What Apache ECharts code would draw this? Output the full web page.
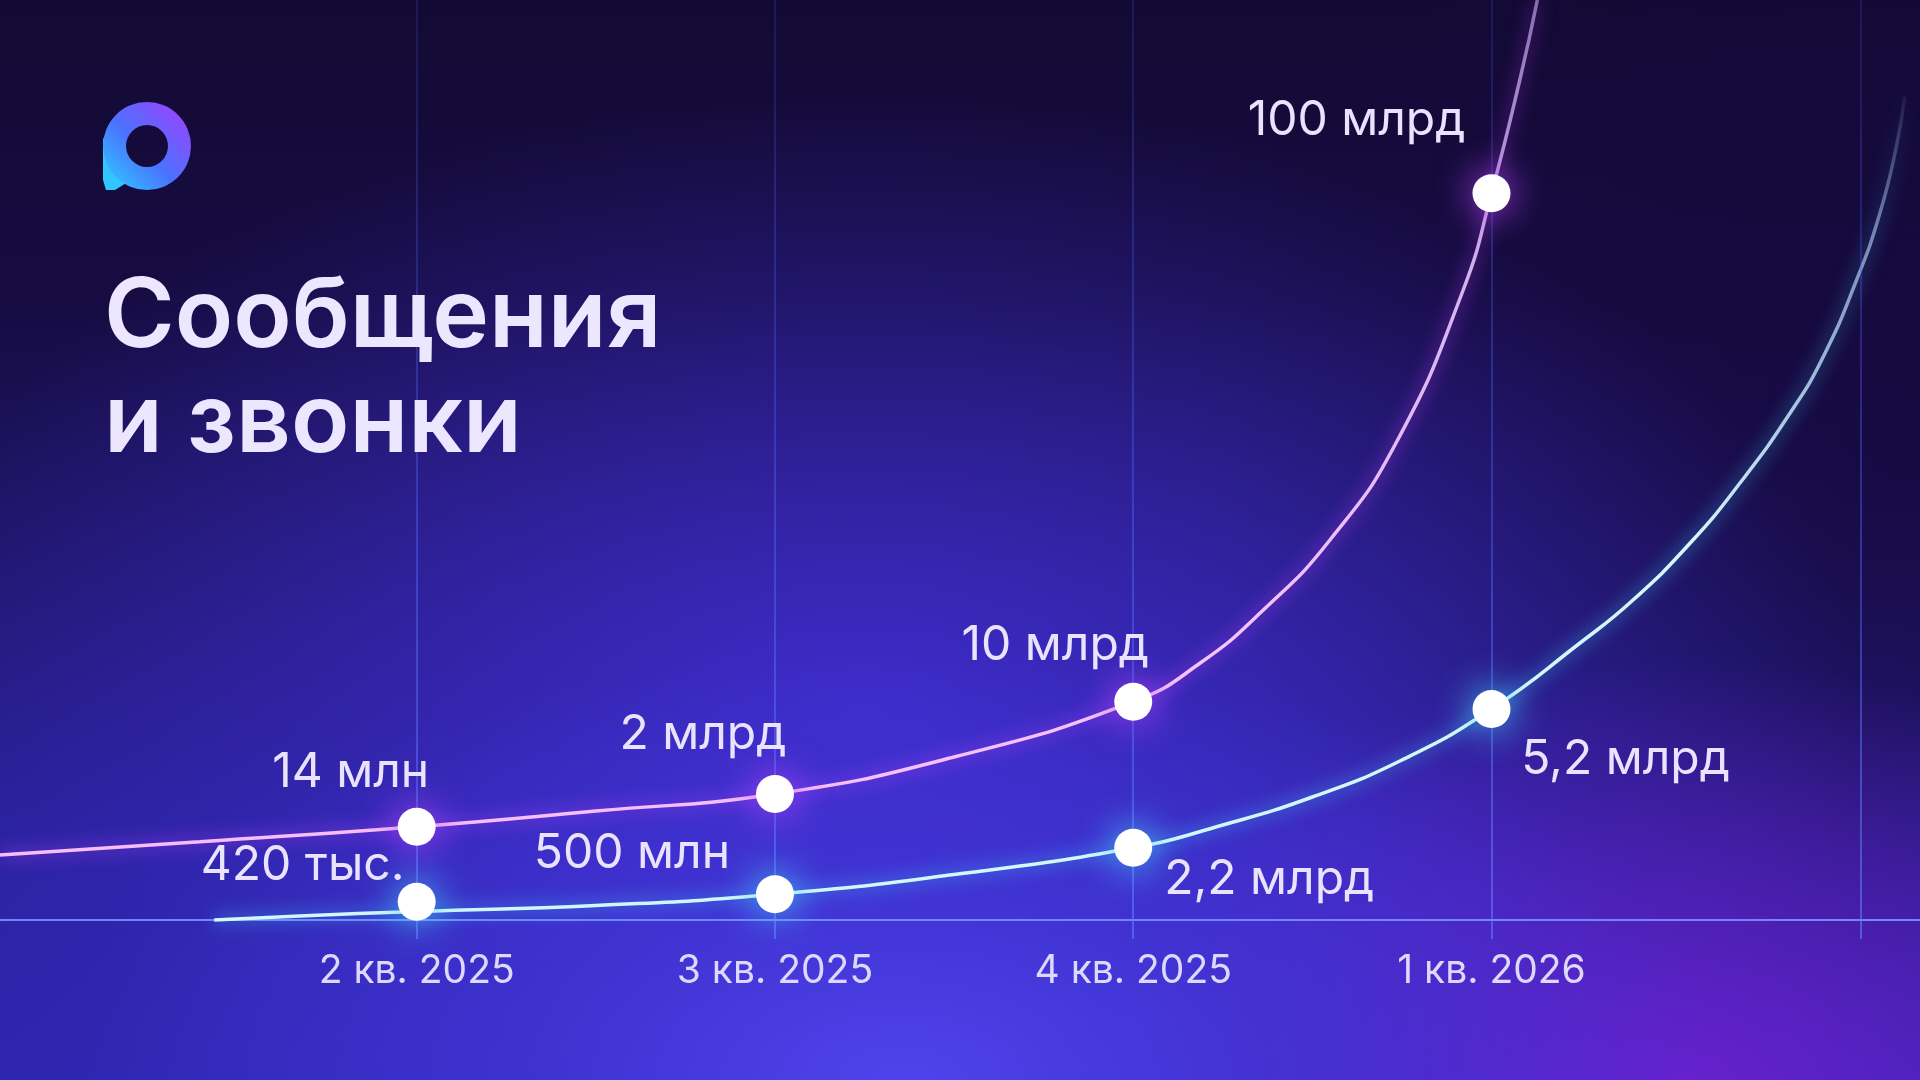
<!DOCTYPE html>
<html>
<head>
<meta charset="utf-8">
<script src="https://cdn.jsdelivr.net/npm/echarts/dist/echarts.min.js"></script>
<style>
  html, body { margin: 0; padding: 0; background: #120a33; }
  #chart {
    width: 1920px; height: 1080px;
    background:
      radial-gradient(ellipse 820px 430px at 47% 100%, rgba(80,68,238,0.95) 0%, rgba(70,58,225,0.55) 45%, rgba(60,45,210,0) 100%),
      radial-gradient(ellipse 620px 420px at 88% 100%, rgba(112,32,210,0.85) 0%, rgba(100,30,200,0) 100%),
      radial-gradient(ellipse 1000px 620px at 45% 66%, rgba(68,48,220,0.8) 0%, rgba(62,46,205,0) 100%),
      radial-gradient(ellipse 700px 700px at 100% 40%, rgba(22,8,60,0.8) 0%, rgba(22,8,60,0) 100%),
      linear-gradient(180deg, #130a34 0%, #160c42 28%, #201770 55%, #2a22a0 80%, #2e26b0 100%);
  }
</style>
</head>
<body>
<div id="chart"></div>
<script>
// ---- Data ----
const quarters = ['2 кв. 2025', '3 кв. 2025', '4 кв. 2025', '1 кв. 2026'];
const messageLabels = ['14 млн', '2 млрд', '10 млрд', '100 млрд'];
const callLabels = ['420 тыс.', '500 млн', '2,2 млрд', '5,2 млрд'];
// stylised vertical level of each point (0 = baseline, 92 = top edge)
const messageLevels = [9.33, 12.6, 21.83, 72.67];
const callLevels = [1.83, 2.57, 7.23, 21.1];
// traced curve paths [quarter position, level]
const messageCurve = [[-1.163, 6.5], [-0.605, 7.83], [0, 9.33], [0.5, 10.9], [1, 12.6], [1.5, 16.3], [2, 21.83], [2.186, 25.67], [2.363, 31.0], [2.549, 38.0], [2.735, 47.8], [2.921, 63.0], [3, 72.67], [3.079, 84], [3.128, 92]];
const callCurve = [[-0.565, 0], [-0.326, 0.4], [0, 0.85], [0.5, 1.45], [1, 2.57], [1.5, 4.55], [2, 7.23], [2.25, 9.5], [2.5, 12.3], [2.75, 16.0], [3, 21.1], [3.247, 27.7], [3.395, 32], [3.554, 37.67], [3.693, 43.67], [3.833, 50.67], [3.926, 56.33], [4.019, 64], [4.084, 70.67], [4.13, 77.33], [4.153, 82.33]];
const gridPositions = [0, 1, 2, 3, 4.03];

// ---- Layout / style (not data) ----
const messageLabelOffsets = [[-66, -54], [-72, -59], [-78, -56], [-135, -73]];
const callLabelOffsets = [[-114, -36], [-143, -41], [136, 32], [134, 51]];
const FONT = 'Inter, "Noto Sans", sans-serif';

const chart = echarts.init(document.getElementById('chart'), null, { renderer: 'canvas' });

const purpleLine = {
  type: 'linear', x: 0, y: 0, x2: 0, y2: 1080, global: true,
  colorStops: [
    { offset: 0, color: 'rgba(205,175,255,0.6)' },
    { offset: 0.25, color: 'rgba(230,195,255,0.9)' },
    { offset: 0.6, color: '#f6c4ff' },
    { offset: 1, color: '#f8b4ff' }
  ]
};
const cyanLine = {
  type: 'linear', x: 0, y: 0, x2: 0, y2: 1080, global: true,
  colorStops: [
    { offset: 0.07, color: 'rgba(170,190,255,0)' },
    { offset: 0.22, color: 'rgba(185,210,255,0.6)' },
    { offset: 0.5, color: 'rgba(215,246,255,1)' },
    { offset: 1, color: '#cef7ff' }
  ]
};
const gridColor = {
  type: 'linear', x: 0, y: 0, x2: 0, y2: 939, global: true,
  colorStops: [
    { offset: 0, color: 'rgba(70,90,230,0.25)' },
    { offset: 0.5, color: 'rgba(80,105,250,0.5)' },
    { offset: 1, color: 'rgba(100,130,255,0.75)' }
  ]
};

const option = {
  backgroundColor: 'transparent',
  animation: false,
  grid: { left: 0, right: 0, top: 0, bottom: 141, containLabel: false },
  xAxis: {
    type: 'value', min: -1.163, max: 4.196,
    axisLine: { show: true, onZero: true, lineStyle: { color: '#7484ff', width: 2 } },
    axisTick: { show: false },
    splitLine: { show: false },
    axisLabel: {
      show: true, margin: 13, color: '#ddd8ff', fontFamily: FONT, fontSize: 39, fontWeight: 400,
      customValues: [0, 1, 2, 3],
      formatter: v => quarters[Math.round(v)] || ''
    }
  },
  yAxis: { type: 'value', min: -1.9, max: 92, show: false, splitLine: { show: false } },
  graphic: [
    {
      type: 'polygon', z: 10,
      shape: { points: [[103, 138], [103, 180], [106, 190], [115, 190], [131, 180], [124, 162]] },
      style: { fill: '#31c6ff' }
    },
    {
      type: 'ring', z: 11,
      shape: { cx: 147, cy: 146, r: 44, r0: 21 },
      style: {
        fill: {
          type: 'linear', x: 0, y: 1, x2: 1, y2: 0,
          colorStops: [
            { offset: 0, color: '#2bd3ff' },
            { offset: 0.45, color: '#4a72ff' },
            { offset: 1, color: '#a53dff' }
          ]
        }
      }
    },
    {
      type: 'text', left: 104, top: 266, z: 10,
      style: {
        text: 'Сообщения\nи звонки',
        font: '600 96px ' + FONT,
        fill: '#ece6ff',
        lineHeight: 105
      }
    }
  ],
  series: [
    {
      type: 'line', name: 'grid', data: [], z: 1, silent: true,
      markLine: {
        silent: true, symbol: ['none', 'none'], label: { show: false },
        lineStyle: { color: gridColor, width: 1.5, type: 'solid' },
        data: gridPositions.map(v => ({ xAxis: v }))
      }
    },
    {
      type: 'line', name: 'Звонки', data: callCurve, smooth: 0.5, showSymbol: false, z: 3,
      lineStyle: { color: cyanLine, width: 3.5, shadowBlur: 18, shadowColor: 'rgba(60,205,255,1)' }
    },
    {
      type: 'line', name: 'Сообщения', data: messageCurve, smooth: 0.5, showSymbol: false, z: 3,
      lineStyle: { color: purpleLine, width: 3.5, shadowBlur: 18, shadowColor: 'rgba(195,70,255,1)' }
    },
    {
      type: 'scatter', name: 'Звонки точки', z: 5, symbolSize: 38,
      itemStyle: { color: '#ffffff', opacity: 1, shadowBlur: 38, shadowColor: 'rgba(70,210,255,1)' },
      label: {
        show: true, position: 'inside', color: '#e9e3ff', fontFamily: FONT, fontSize: 48, fontWeight: 400,
        formatter: p => callLabels[p.dataIndex]
      },
      data: callLevels.map((v, i) => ({ value: [i, v], label: { offset: callLabelOffsets[i] } }))
    },
    {
      type: 'scatter', name: 'Сообщения точки', z: 5, symbolSize: 38,
      itemStyle: { color: '#ffffff', opacity: 1, shadowBlur: 38, shadowColor: 'rgba(185,70,255,1)' },
      label: {
        show: true, position: 'inside', color: '#e9e3ff', fontFamily: FONT, fontSize: 48, fontWeight: 400,
        formatter: p => messageLabels[p.dataIndex]
      },
      data: messageLevels.map((v, i) => ({ value: [i, v], label: { offset: messageLabelOffsets[i] } }))
    }
  ]
};
chart.setOption(option);
</script>
</body>
</html>
